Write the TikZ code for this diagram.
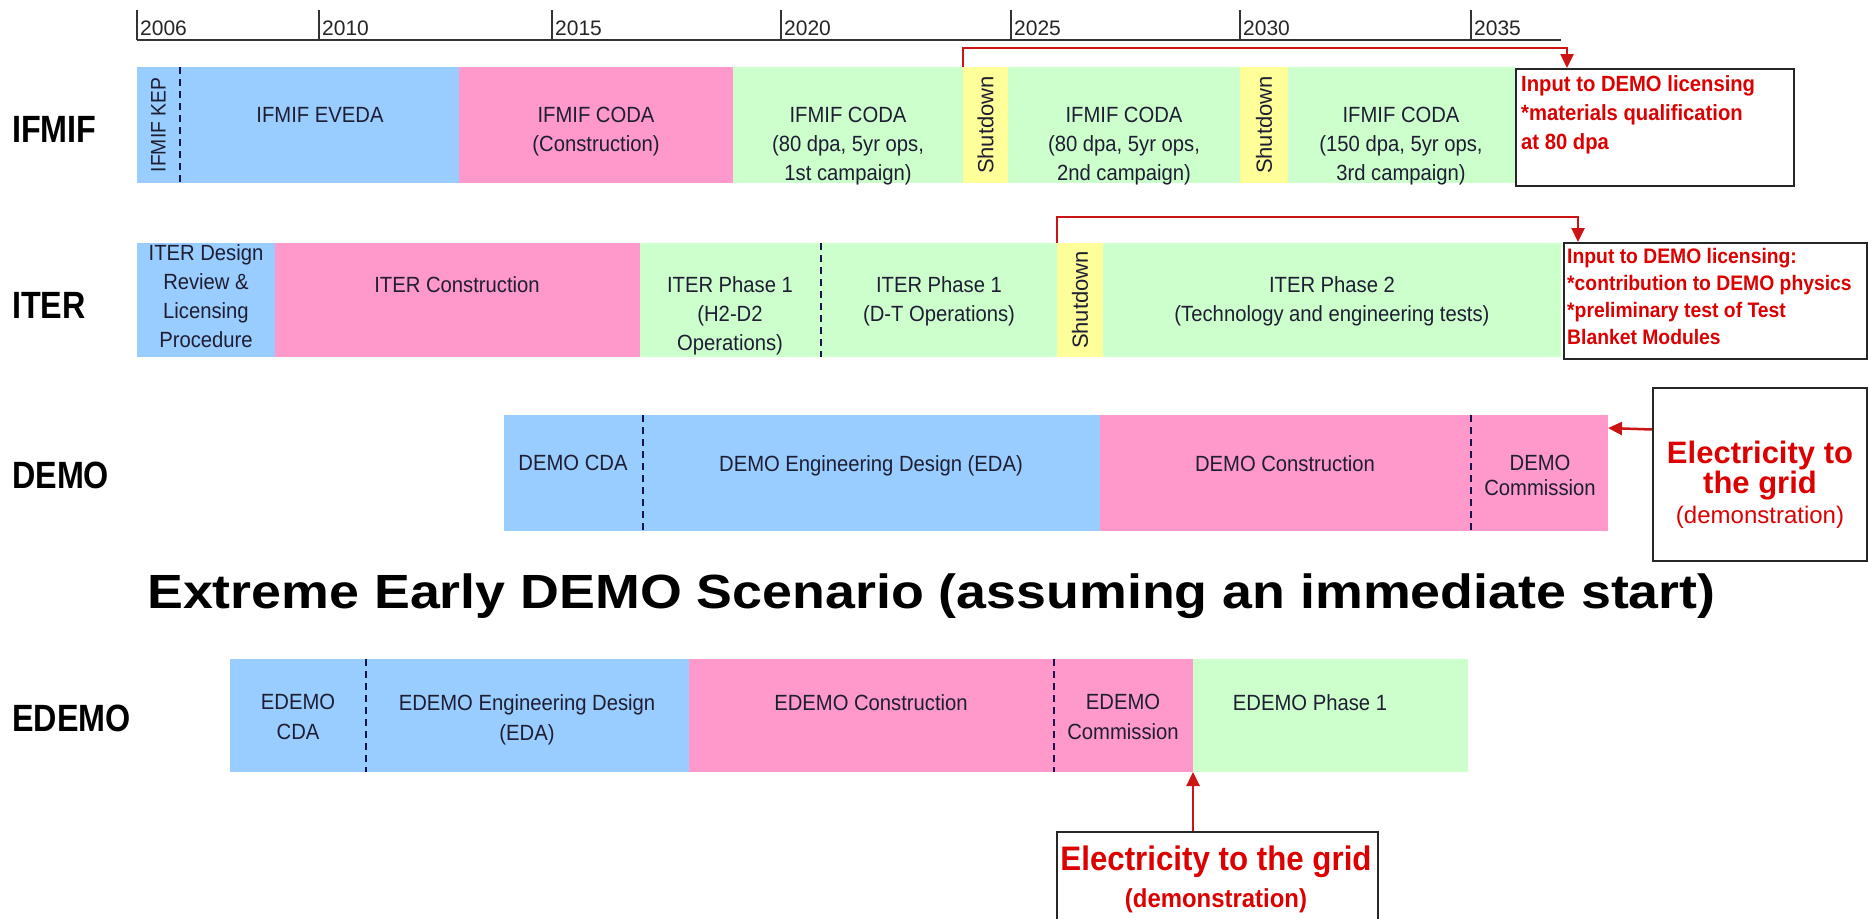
\documentclass[tikz,border=0pt]{standalone}
\usepackage{fontspec}
\setmainfont{Liberation Sans}[FakeStretch=0.92]
\newfontfamily\plainfont{Liberation Sans}
\newfontfamily\labfont{Liberation Sans}[FakeStretch=0.85]
\newfontfamily\titlefont{Liberation Sans}[FakeStretch=1.12]
\usetikzlibrary{arrows.meta}
\definecolor{barblue}{RGB}{153,204,255}
\definecolor{barpink}{RGB}{255,153,204}
\definecolor{bargreen}{RGB}{204,255,204}
\definecolor{baryellow}{RGB}{255,255,153}
\definecolor{txtred}{RGB}{220,0,0}
\definecolor{linered}{RGB}{205,20,20}
\definecolor{ink}{RGB}{30,30,50}
\definecolor{sepcol}{RGB}{20,20,70}
\tikzset{
  barbox/.style={inner sep=0pt, outer sep=0pt, anchor=north west, draw=none},
  bartext/.style={anchor=north, align=center, inner sep=0pt, text=ink, font=\fontsize{22}{29}\selectfont},
  rottext/.style={rotate=90, inner sep=0pt, text=ink},
  sepline/.style={draw=sepcol, line width=1.5pt, dash pattern=on 7pt off 5pt},
  rowlabel/.style={anchor=west, inner sep=0pt, text=black, font=\labfont\bfseries\fontsize{38}{40}\selectfont},
  notebox/.style={draw=black!85, line width=2pt, anchor=north west, inner sep=0pt, fill=white},
  redtext/.style={text=txtred, align=left, anchor=north west, inner sep=0pt},
  redarrow/.style={draw=linered, line width=2.5pt, -{Triangle[width=13pt,length=14pt]}},
  yearlab/.style={anchor=base west, inner sep=0pt, text=black!85, font=\plainfont\fontsize{21}{24}\selectfont},
  axisline/.style={draw=black!80, line width=2pt},
  tickline/.style={draw=black!80, line width=1.5pt}
}
\newcommand\tlbar[6]{\node[barbox, fill=#6, minimum width={#4pt-#2pt}, minimum height={#5pt-#3pt}] (#1) at (#2,#3) {};}
\begin{document}
\begin{tikzpicture}[x=1pt,y=-1pt]
\useasboundingbox (0,0) rectangle (1868,918);
\fill[white] (0,0) rectangle (1868,918);

% ---------- time axis ----------
\draw[axisline] (137,40) -- (1561,40);
\foreach \tx/\yr in {137/2006,319/2010,552/2015,781/2020,1011/2025,1240/2030,1471/2035}{
  \draw[tickline] (\tx,40) -- (\tx,10);
  \node[yearlab] (yr\yr) at (\tx+3,35) {\yr};
}

% ---------- IFMIF ----------
\node[rowlabel] (lifmif) at (12,129) {IFMIF};
\tlbar{kep}{137}{67}{180}{183}{barblue}
\tlbar{eveda}{180}{67}{459}{183}{barblue}
\tlbar{icoda}{459}{67}{733}{183}{barpink}
\tlbar{ic1}{733}{67}{963}{183}{bargreen}
\tlbar{isd1}{963}{67}{1008}{183}{baryellow}
\tlbar{ic2}{1008}{67}{1240}{183}{bargreen}
\tlbar{isd2}{1240}{67}{1288}{183}{baryellow}
\tlbar{ic3}{1288}{67}{1515}{183}{bargreen}
\draw[sepline] (eveda.north west) -- (eveda.south west);
\node[rottext, font=\fontsize{21}{24}\selectfont] (tkep) at (kep) {IFMIF KEP};
\node[bartext] (teveda) at (320,107) {IFMIF EVEDA};
\node[bartext] (ticoda) at (596,107) {IFMIF CODA\\(Construction)};
\node[bartext] (tic1) at (848,107) {IFMIF CODA\\(80 dpa, 5yr ops,\\1st campaign)};
\node[rottext, font=\plainfont\fontsize{22}{24}\selectfont] (tisd1) at (isd1) {Shutdown};
\node[bartext] (tic2) at (1124,107) {IFMIF CODA\\(80 dpa, 5yr ops,\\2nd campaign)};
\node[rottext, font=\plainfont\fontsize{22}{24}\selectfont] (tisd2) at (isd2) {Shutdown};
\node[bartext] (tic3) at (1401,107) {IFMIF CODA\\(150 dpa, 5yr ops,\\3rd campaign)};
\node[notebox, minimum width=278pt, minimum height=117pt] (box1) at (1515,68) {};
\node[redtext, font=\bfseries\fontsize{22}{29}\selectfont] (tbox1) at ([xshift=6pt,yshift=-7pt]box1.north west) {Input to DEMO licensing\\*materials qualification\\at 80 dpa};
\draw[redarrow] (isd1.north west) -- ++(0,-19) -| ([xshift=52pt]box1.north west);

% ---------- ITER ----------
\node[rowlabel] (liter) at (12,305) {ITER};
\tlbar{idr}{137}{243}{275}{357}{barblue}
\tlbar{icon}{275}{243}{640}{357}{barpink}
\tlbar{ip1a}{640}{243}{821}{357}{bargreen}
\tlbar{ip1b}{821}{243}{1057}{357}{bargreen}
\tlbar{itsd}{1057}{243}{1103}{357}{baryellow}
\tlbar{ip2}{1103}{243}{1561}{357}{bargreen}
\draw[sepline] (ip1b.north west) -- (ip1b.south west);
\node[bartext] (tidr) at (206,244) {ITER Design\\Review \&\\Licensing\\Procedure};
\node[bartext] (ticon) at (457,276) {ITER Construction};
\node[bartext] (tip1a) at (730,276) {ITER Phase 1\\(H2-D2\\Operations)};
\node[bartext] (tip1b) at (939,276) {ITER Phase 1\\(D-T Operations)};
\node[rottext, font=\plainfont\fontsize{22}{24}\selectfont] (titsd) at (itsd) {Shutdown};
\node[bartext] (tip2) at (1332,276) {ITER Phase 2\\(Technology and engineering tests)};
\node[notebox, minimum width=303pt, minimum height=116pt] (box2) at (1563,242) {};
\node[redtext, font=\bfseries\fontsize{21}{27}\selectfont] (tbox2) at ([xshift=4pt,yshift=-6pt]box2.north west) {Input to DEMO licensing:\\*contribution to DEMO physics\\*preliminary test of Test\\Blanket Modules};
\draw[redarrow] (itsd.north west) -- ++(0,-26) -| ([xshift=15pt]box2.north west);

% ---------- DEMO ----------
\node[rowlabel] (ldemo) at (12,475) {DEMO};
\tlbar{dcda}{504}{415}{643}{531}{barblue}
\tlbar{deda}{643}{415}{1100}{531}{barblue}
\tlbar{dcon}{1100}{415}{1471}{531}{barpink}
\tlbar{dcom}{1471}{415}{1608}{531}{barpink}
\draw[sepline] (deda.north west) -- (deda.south west);
\draw[sepline] (dcom.north west) -- (dcom.south west);
\node[bartext] (tdcda) at (573,455) {DEMO CDA};
\node[bartext] (tdeda) at (871,455) {DEMO Engineering Design (EDA)};
\node[bartext] (tdcon) at (1285,455) {DEMO Construction};
\node[bartext, font=\fontsize{22}{25}\selectfont] (tdcom) at (1540,455) {DEMO\\Commission};
\node[notebox, minimum width=214pt, minimum height=173pt] (box3) at (1652,387) {};
\node[anchor=north, align=center, inner sep=0pt, text=txtred, font=\plainfont\bfseries\fontsize{31}{28}\selectfont] (tbox3) at ([yshift=-54pt]box3.north) {Electricity to\\the grid};
\node[anchor=base, inner sep=0pt, text=txtred, font=\plainfont\fontsize{24}{28}\selectfont] (tbox3b) at ([yshift=-136pt]box3.north) {(demonstration)};
\draw[redarrow] ([yshift=45pt]box3.west) -- ([yshift=45pt]dcom.east);

% ---------- title ----------
\node[anchor=base west, inner sep=0pt, font=\titlefont\bfseries\fontsize{48}{56}\selectfont] (title) at (147,608) {Extreme Early DEMO Scenario (assuming an immediate start)};

% ---------- EDEMO ----------
\node[rowlabel] (ledemo) at (12,718) {EDEMO};
\tlbar{ecda}{230}{659}{366}{772}{barblue}
\tlbar{eeda}{366}{659}{689}{772}{barblue}
\tlbar{econ}{689}{659}{1054}{772}{barpink}
\tlbar{ecom}{1054}{659}{1193}{772}{barpink}
\tlbar{eph}{1193}{659}{1468}{772}{bargreen}
\draw[sepline] (eeda.north west) -- (eeda.south west);
\draw[sepline] (ecom.north west) -- (ecom.south west);
\node[bartext, font=\fontsize{22}{30}\selectfont] (tecda) at (298,694) {EDEMO\\CDA};
\node[bartext, font=\fontsize{22}{30}\selectfont] (teeda) at (527,694) {EDEMO Engineering Design\\(EDA)};
\node[bartext] (tecon) at (871,694) {EDEMO Construction};
\node[bartext, font=\fontsize{22}{30}\selectfont] (tecom) at (1123,694) {EDEMO\\Commission};
\node[bartext] (teph) at (1310,694) {EDEMO Phase 1};
\node[notebox, minimum width=321pt, minimum height=100pt] (box4) at (1056,831) {};
\node[anchor=base, inner sep=0pt, text=txtred, font=\bfseries\fontsize{34}{36}\selectfont] (tbox4) at (1216,870) {Electricity to the grid};
\node[anchor=base, inner sep=0pt, text=txtred, font=\bfseries\fontsize{26}{28}\selectfont] (tbox4b) at (1216,907) {(demonstration)};
\draw[redarrow] (box4.north -| ecom.south east) -- (ecom.south east);
\end{tikzpicture}
\end{document}
